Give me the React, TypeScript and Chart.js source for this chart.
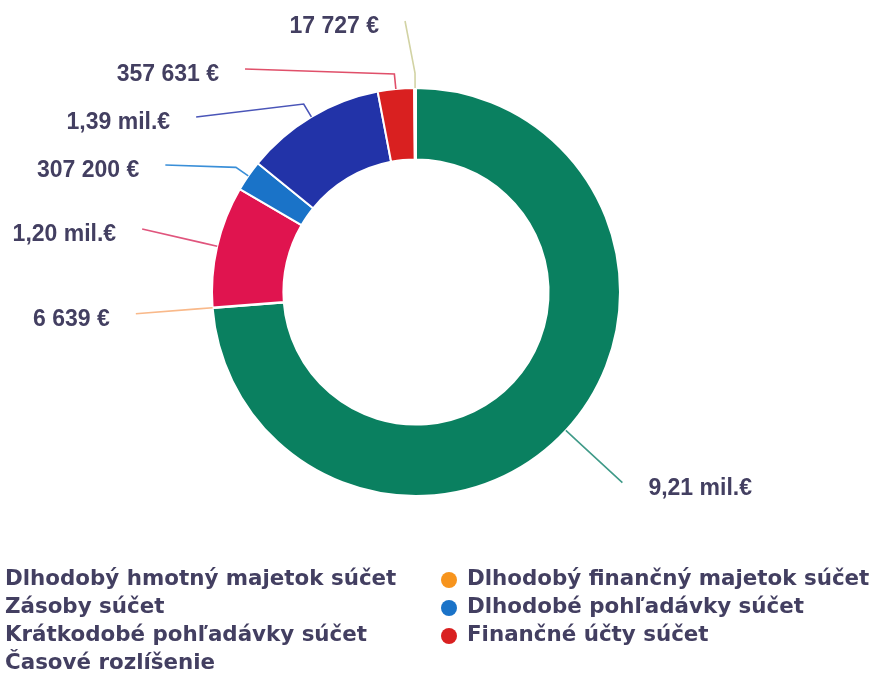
import React, { useEffect, useRef } from "react";
import { Chart, registerables } from "chart.js";

Chart.register(...registerables);

const categories = [
  "Dlhodobý hmotný majetok súčet",
  "Dlhodobý finančný majetok súčet",
  "Zásoby súčet",
  "Dlhodobé pohľadávky súčet",
  "Krátkodobé pohľadávky súčet",
  "Finančné účty súčet",
  "Časové rozlíšenie",
];
const values = [9210000, 6639, 1200000, 307200, 1390000, 357631, 17727];
const sliceColors = ["#0a8060", "#f7941d", "#e0144f", "#1a73c8", "#2233a8", "#d92020", "#b9bb72"];
const leaderColors = ["#3f9a88", "#f9b98a", "#e0557d", "#3a8fd8", "#4a55b8", "#e0506a", "#d2d3a4"];

const TEXT_COLOR = "#433f61";
const LABEL_FONT = 'bold 23px "Liberation Sans", Arial, sans-serif';
const LEGEND_FONT = 'bold 21.4px "DejaVu Sans", sans-serif';

function formatValue(v: number): string {
  if (v >= 1e6) return (v / 1e6).toFixed(2).replace(".", ",") + " mil.€";
  return String(Math.round(v)).replace(/\B(?=(\d{3})+(?!\d))/g, " ") + " €";
}

const labelPlugin = {
  id: "calloutLabels",
  afterDraw(chart: any) {
    const meta = chart.getDatasetMeta(0);
    const arcs = meta.data as any[];
    if (!arcs.length) return;
    const cx = arcs[0].x;
    const cy = arcs[0].y;
    const R = arcs[0].outerRadius;
    const Rl = R + 77;
    const gap = 48;
    const items = arcs.map((arc: any, i: number) => {
      const mid = (arc.startAngle + arc.endAngle) / 2;
      const ux = Math.cos(mid);
      const uy = Math.sin(mid);
      return { i, ux, uy, side: ux < 0 ? -1 : 1, y: cy + Rl * uy };
    });
    for (const side of [-1, 1]) {
      const group = items.filter((it) => it.side === side).sort((a, b) => a.y - b.y);
      let prev = cy - Rl + 10 - gap;
      for (const it of group) {
        it.y = Math.max(it.y, prev + gap);
        prev = it.y;
      }
    }
    const ctx = chart.ctx;
    ctx.save();
    for (const it of items) {
      const sx = cx + R * it.ux;
      const sy = cy + R * it.uy;
      const ex0 = cx + (R + 15) * it.ux;
      const ey0 = cy + (R + 15) * it.uy;
      const dy = it.y - cy;
      let xEnd = cx + it.side * Math.sqrt(Math.max(0, Rl * Rl - dy * dy));
      if (Math.abs(it.ux) < 0.05) xEnd = ex0 + it.side * 10;
      ctx.strokeStyle = leaderColors[it.i];
      ctx.lineWidth = 1.6;
      ctx.beginPath();
      ctx.moveTo(sx, sy);
      ctx.lineTo(ex0, ey0);
      ctx.lineTo(xEnd, it.y);
      ctx.stroke();
      ctx.font = LABEL_FONT;
      ctx.fillStyle = TEXT_COLOR;
      ctx.textBaseline = "middle";
      ctx.textAlign = it.side < 0 ? "right" : "left";
      ctx.fillText(formatValue(values[it.i]), xEnd + it.side * 26, it.y + 6);
    }
    ctx.restore();
  },
};

const legendPlugin = {
  id: "twoColLegend",
  afterDraw(chart: any) {
    const ctx = chart.ctx;
    const colX = [5, 467];
    const rowY0 = 579;
    const rowStep = 28;
    ctx.save();
    ctx.font = LEGEND_FONT;
    ctx.textBaseline = "middle";
    ctx.textAlign = "left";
    categories.forEach((name, i) => {
      const col = i % 2;
      const row = Math.floor(i / 2);
      const x = colX[col];
      const y = rowY0 + row * rowStep;
      ctx.fillStyle = sliceColors[i];
      ctx.beginPath();
      ctx.arc(x - 18, y + 1, 8, 0, Math.PI * 2);
      ctx.fill();
      ctx.fillStyle = TEXT_COLOR;
      ctx.fillText(name, x, y);
    });
    ctx.restore();
  },
};

export default function App() {
  const ref = useRef<HTMLCanvasElement | null>(null);
  useEffect(() => {
    if (!ref.current) return;
    const chart = new Chart(ref.current, {
      type: "doughnut",
      data: {
        labels: categories,
        datasets: [
          {
            data: values,
            backgroundColor: sliceColors,
            borderColor: "#ffffff",
            borderWidth: 2,
          },
        ],
      },
      options: {
        responsive: false,
        animation: false,
        cutout: "65%",
        layout: { padding: { top: 86, bottom: 185, left: 211, right: 256 } },
        plugins: {
          legend: { display: false },
          tooltip: { enabled: false },
        },
      },
      plugins: [labelPlugin, legendPlugin],
    });
    return () => chart.destroy();
  }, []);
  return (
    <div style={{ position: "fixed", left: 0, top: 0, width: 877, height: 683, background: "#ffffff" }}>
      <canvas ref={ref} width={877} height={683} style={{ display: "block", width: 877, height: 683 }} />
    </div>
  );
}
